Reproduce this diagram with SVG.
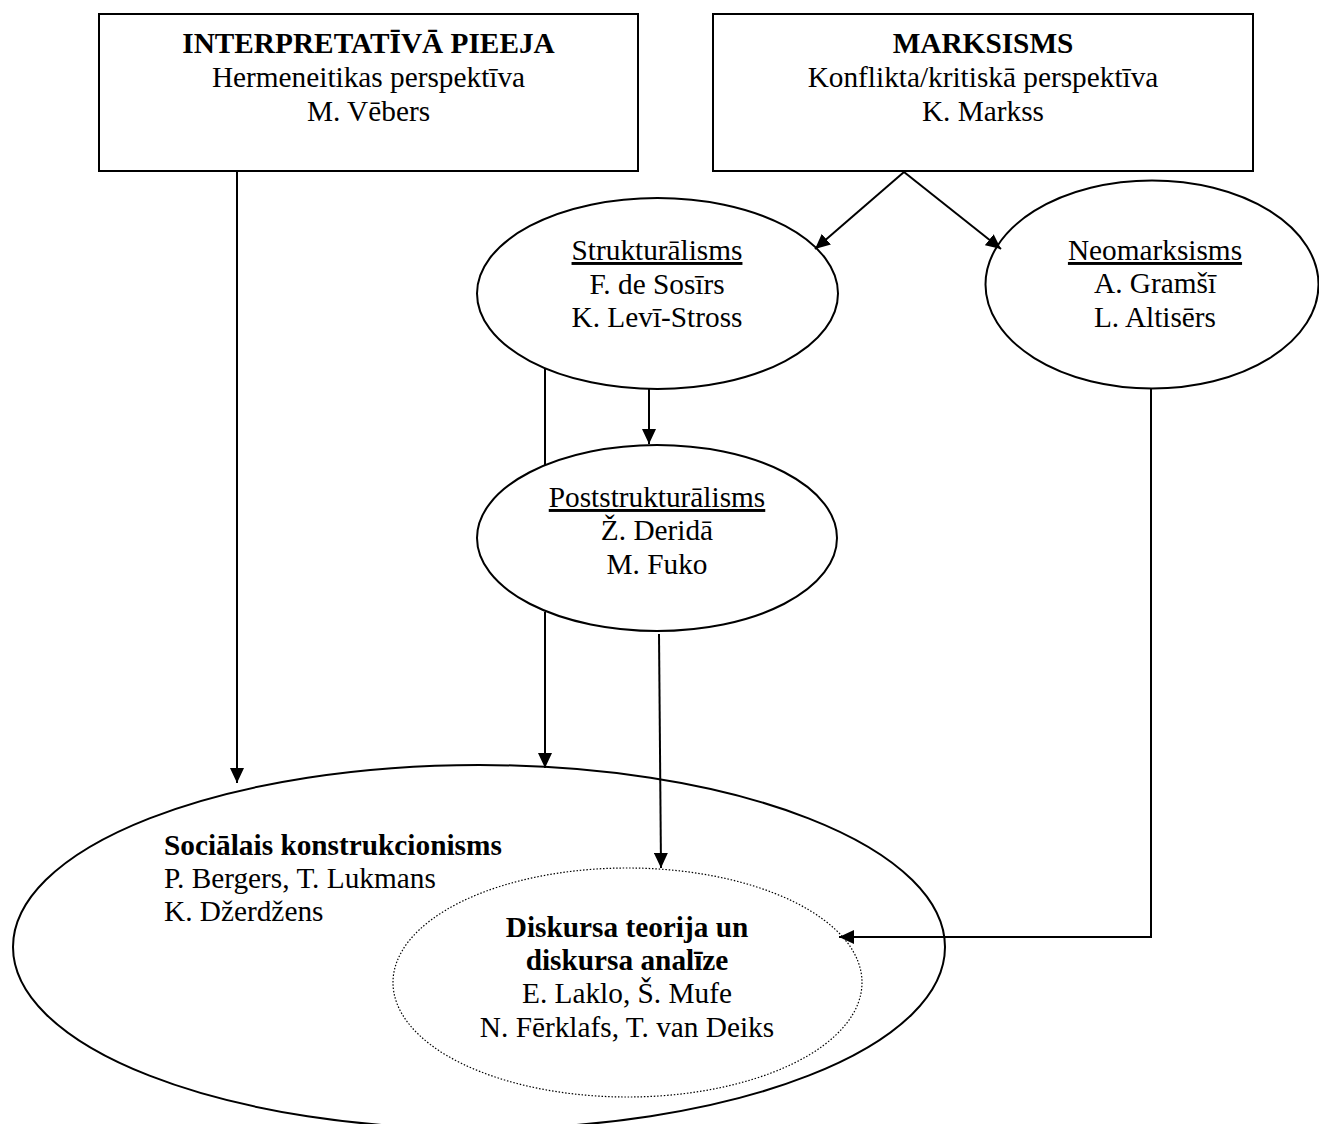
<svg xmlns="http://www.w3.org/2000/svg" width="1319" height="1124" viewBox="0 0 1319 1124">
<style>
text{font-family:"Liberation Serif","Times New Roman",serif;font-size:29.3px;fill:#000}
.b{font-weight:bold}
.u{text-decoration:underline}
.c{text-anchor:middle}
.box{fill:#fff;stroke:#000;stroke-width:2}
.ell{fill:none;stroke:#000;stroke-width:2}
.dot{fill:none;stroke:#000;stroke-width:1.2;stroke-dasharray:1.5 1.8}
.con{fill:none;stroke:#000;stroke-width:2}
</style>
<defs>
<marker id="ah" markerUnits="userSpaceOnUse" markerWidth="16" markerHeight="14" refX="15" refY="7" orient="auto">
<path d="M0,0 L15,7 L0,14 z" fill="#000"/>
</marker>
</defs>
<rect width="1319" height="1124" fill="#fff"/>
<g id="social">
<ellipse class="ell" cx="479" cy="947" rx="466" ry="182"/>
<text class="b" x="164" y="855">Sociālais konstrukcionisms</text>
<text x="164" y="888">P. Bergers, T. Lukmans</text>
<text x="164" y="921">K. Džerdžens</text>
</g>
<g id="diskurss">
<ellipse class="dot" cx="627.5" cy="982.5" rx="234.5" ry="114.5"/>
<text class="b c" x="627" y="937">Diskursa teorija un</text>
<text class="b c" x="627" y="970">diskursa analīze</text>
<text class="c" x="627" y="1003">E. Laklo, Š. Mufe</text>
<text class="c" x="627" y="1037">N. Fērklafs, T. van Deiks</text>
</g>
<g id="interpretativa">
<rect class="box" x="99" y="14" width="539" height="157"/>
<text class="b c" x="368.5" y="53">INTERPRETATĪVĀ PIEEJA</text>
<text class="c" x="368.5" y="87">Hermeneitikas perspektīva</text>
<text class="c" x="368.5" y="120.5">M. Vēbers</text>
</g>
<g id="marksisms">
<rect class="box" x="713" y="14" width="540" height="157"/>
<text class="b c" x="983" y="53">MARKSISMS</text>
<text class="c" x="983" y="87">Konflikta/kritiskā perspektīva</text>
<text class="c" x="983" y="120.5">K. Markss</text>
</g>
<g id="strukturalisms">
<ellipse class="ell" cx="657.5" cy="293.5" rx="180.5" ry="95.5"/>
<text class="c u" x="657" y="260">Strukturālisms</text>
<text class="c" x="657" y="294">F. de Sosīrs</text>
<text class="c" x="657" y="327">K. Levī-Stross</text>
</g>
<g id="neomarksisms">
<ellipse class="ell" cx="1152" cy="284.5" rx="166.5" ry="104"/>
<text class="c u" x="1155" y="260">Neomarksisms</text>
<text class="c" x="1155" y="293">A. Gramšī</text>
<text class="c" x="1155" y="327">L. Altisērs</text>
</g>
<g id="poststrukturalisms">
<ellipse class="ell" cx="657" cy="538" rx="180" ry="93"/>
<text class="c u" x="657" y="507">Poststrukturālisms</text>
<text class="c" x="657" y="540">Ž. Deridā</text>
<text class="c" x="657" y="574">M. Fuko</text>
</g>
<g id="connectors">
<line class="con" x1="237" y1="171" x2="237" y2="783" marker-end="url(#ah)"/>
<line class="con" x1="904" y1="172" x2="815" y2="249" marker-end="url(#ah)"/>
<line class="con" x1="904" y1="172" x2="1001" y2="249" marker-end="url(#ah)"/>
<line class="con" x1="649" y1="389" x2="649" y2="444" marker-end="url(#ah)"/>
<line class="con" x1="545" y1="368" x2="545" y2="465"/>
<line class="con" x1="545" y1="612" x2="545" y2="768" marker-end="url(#ah)"/>
<line class="con" x1="659" y1="634" x2="661" y2="868" marker-end="url(#ah)"/>
<polyline class="con" points="1151,388 1151,937 839,937" marker-end="url(#ah)"/>
</g>
</svg>
